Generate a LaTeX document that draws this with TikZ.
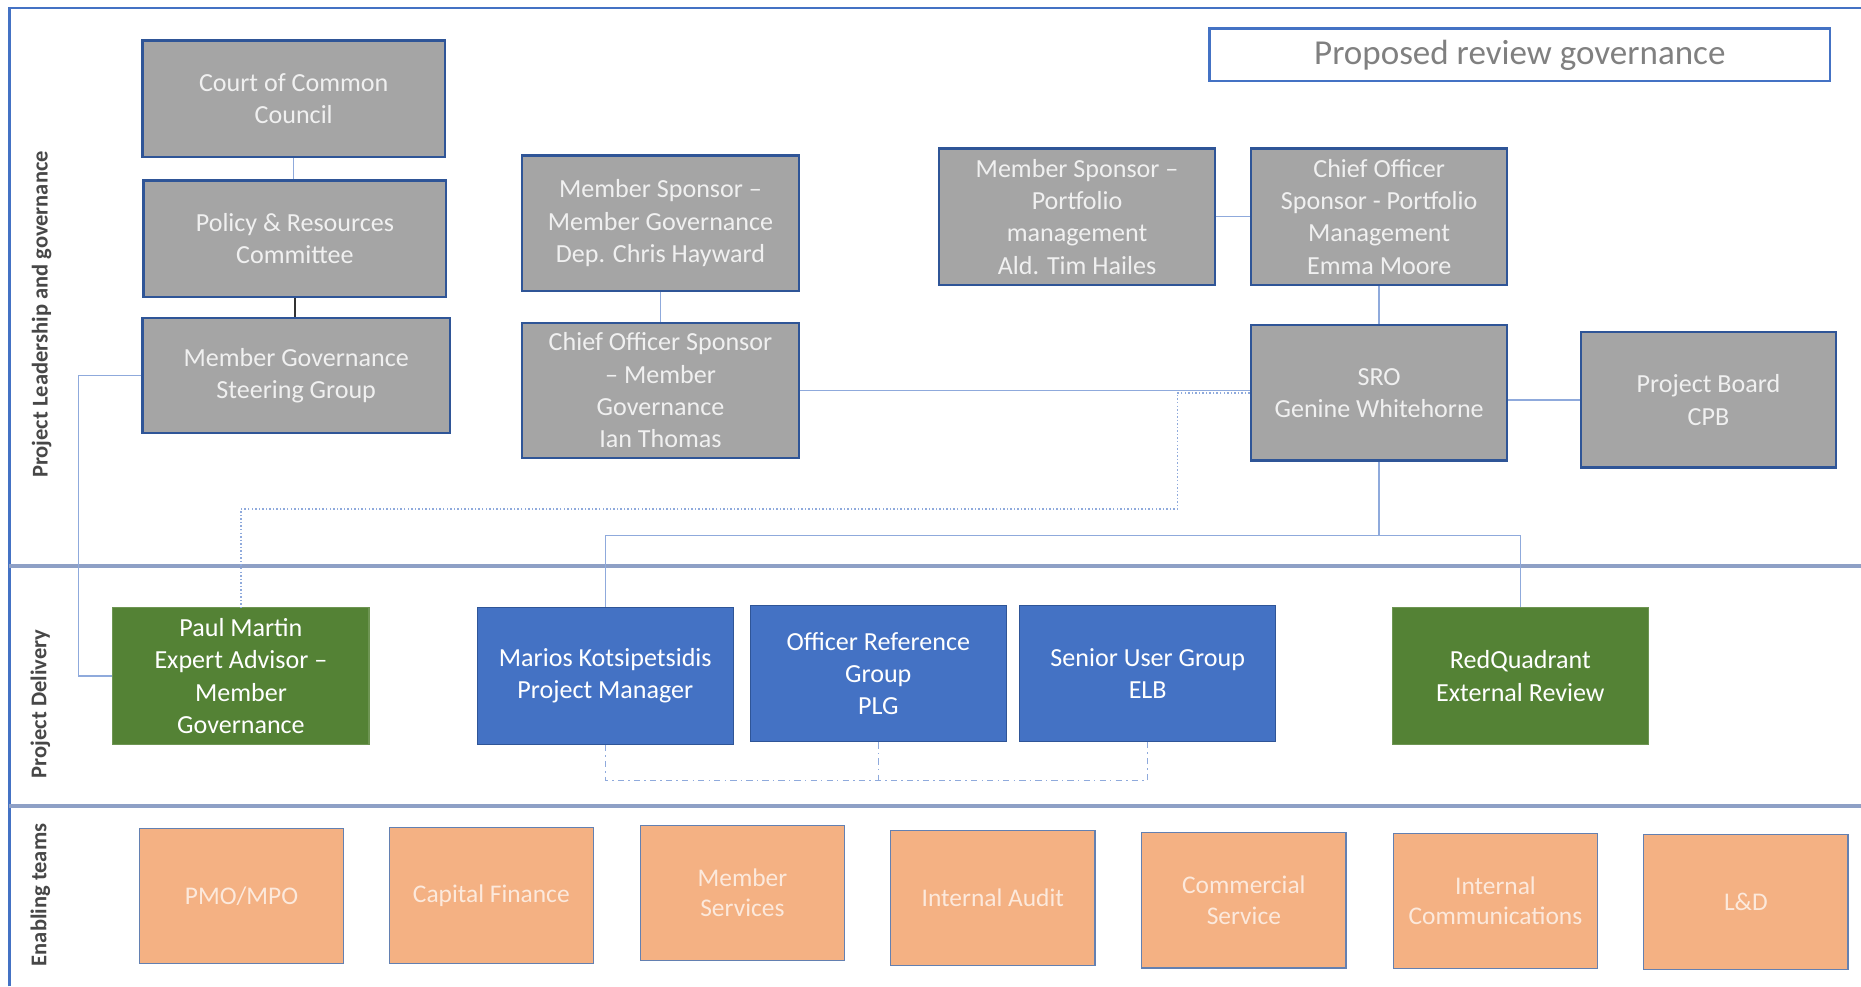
\documentclass[tikz,border=0pt]{standalone}
\usepackage{fontspec}
\setmainfont{Carlito}
\usetikzlibrary{positioning}
\definecolor{govgray}{HTML}{A5A5A5}
\definecolor{edgeblue}{HTML}{2F5597}
\definecolor{linkblue}{HTML}{8FAADC}
\definecolor{delblue}{HTML}{4472C4}
\definecolor{delgreen}{HTML}{548235}
\definecolor{teamorange}{HTML}{F4B183}
\definecolor{teamtext}{HTML}{FCE9DC}
\definecolor{rulegray}{HTML}{8EA0C6}

\begin{document}
\begin{tikzpicture}[
  x=0.02cm, y=-0.02cm,
  font=\fontsize{12.5}{15.5}\selectfont,
  govbox/.style={draw=edgeblue, line width=1.1pt, fill=govgray, text=white!94!black, align=center, inner sep=2pt},
  delbox/.style={line width=0.6pt, text=white, align=center, inner sep=2pt, minimum width=4.32cm, minimum height=2.3cm},
  teambox/.style={draw=edgeblue!75, line width=0.6pt, fill=teamorange, text=teamtext, align=center, inner sep=2pt,
    font=\fontsize{12.2}{14.5}\selectfont, minimum width=3.44cm, minimum height=2.28cm},
  side/.style={rotate=90, font=\fontsize{10.8}{12}\selectfont\bfseries, text=black!72},
  lnk/.style={draw=linkblue, line width=0.7pt},
  dotlnk/.style={lnk, densely dotted},
  ddlnk/.style={lnk, dash dot}]
\useasboundingbox (0,0) rectangle (1568,831);
% --- frame and bands ---
\draw[delblue, line width=1pt] (8,831) -- (8,7) -- (1568,7);
\draw[rulegray, line width=1.6pt] (8,477) -- (1568,477);
\draw[rulegray, line width=1.6pt] (8,679) -- (1568,679);
\node[side] (s1) at (35,265) {Project Leadership and governance};
\node[side] (s2) at (34,593) {Project Delivery};
\node[side] (s3) at (34,754) {Enabling teams};
\node[draw=delblue, line width=1pt, fill=white, text=black!50, font=\fontsize{16.8}{19}\selectfont,
  text height=11pt, text depth=1.4pt,
  minimum width=10.46cm, minimum height=0.88cm] (title) at (1280.5,46) {Proposed review governance};
% --- governance ---
\node[govbox, minimum width=5.1cm, minimum height=1.96cm] (court) at (247.5,83) {Court of Common\\Council};
\node[govbox, minimum width=5.1cm, minimum height=1.96cm] (policy) at (248.5,201) {Policy \& Resources\\Committee};
\node[govbox, minimum width=5.18cm, minimum height=1.94cm] (mgsg) at (249.5,316.5) {Member Governance\\Steering Group};
\node[govbox, minimum width=4.66cm, minimum height=2.28cm] (msmg) at (556.5,188) {Member Sponsor –\\Member Governance\\Dep. Chris Hayward};
\node[govbox, minimum width=4.66cm, minimum height=2.28cm] (cosmg) at (556.5,329) {Chief Officer Sponsor\\– Member\\Governance\\Ian Thomas};
\node[govbox, minimum width=4.66cm, minimum height=2.3cm] (mspm) at (907.5,182.5) {Member Sponsor –\\Portfolio\\management\\Ald. Tim Hailes};
\node[govbox, minimum width=4.32cm, minimum height=2.3cm] (cospm) at (1162,182.5) {Chief Officer\\Sponsor - Portfolio\\Management\\Emma Moore};
\node[govbox, minimum width=4.32cm, minimum height=2.28cm] (sro) at (1162,331) {SRO\\Genine Whitehorne};
\node[govbox, minimum width=4.3cm, minimum height=2.28cm] (board) at (1439.5,337) {Project Board\\CPB};
% --- delivery ---
\node[delbox, fill=delgreen, draw=delgreen!85] (paul) at (203,569.5) {Paul Martin\\Expert Advisor –\\Member\\Governance};
\node[delbox, fill=delblue, draw=edgeblue] (marios) at (510,569.5) {Marios Kotsipetsidis\\Project Manager};
\node[delbox, fill=delblue, draw=edgeblue] (org) at (740,567.5) {Officer Reference\\Group\\PLG};
\node[delbox, fill=delblue, draw=edgeblue] (sug) at (967,567.5) {Senior User Group\\ELB};
\node[delbox, fill=delgreen, draw=delgreen!85] (redq) at (1281,569.5) {RedQuadrant\\External Review};
% --- enabling teams ---
\node[teambox] (pmo) at (203.5,755) {PMO/MPO};
\node[teambox] (capfin) at (414,754.5) {Capital Finance};
\node[teambox] (memserv) at (625.5,752.5) {Member\\Services};
\node[teambox] (audit) at (836.5,756.5) {Internal Audit};
\node[teambox] (commerce) at (1048,758.5) {Commercial\\Service};
\node[teambox] (comms) at (1260,759) {Internal\\Communications};
\node[teambox] (learn) at (1471,760) {L\&D};
% --- links ---
\draw[lnk] (court.south) -- (court.south |- policy.north);
\draw[black!80, line width=0.7pt] (policy.south) -- (policy.south |- mgsg.north);
\draw[lnk] (mgsg.west) -- ++(-53,0) |- (paul.west);
\draw[lnk] (msmg) -- (cosmg);
\draw[lnk] (cosmg.east) -- (cosmg.east -| sro.west);
\draw[dotlnk] (sro.west) -| ++(-61,98) -| (paul.north);
\draw[lnk] (mspm) -- (cospm);
\draw[lnk] (cospm) -- (sro);
\draw[lnk] (board.west -| sro.east) -- (board.west);
\coordinate (split) at (1162,451);
\draw[lnk] (sro.south) -- (split);
\draw[lnk] (split) -| (marios.north);
\draw[lnk] (split) -| (redq.north);
\draw[ddlnk] (marios.south) -- ++(0,30) coordinate (tie) -| (sug.south);
\draw[ddlnk] (org.south) -- (org.south |- tie);
\end{tikzpicture}
\end{document}
